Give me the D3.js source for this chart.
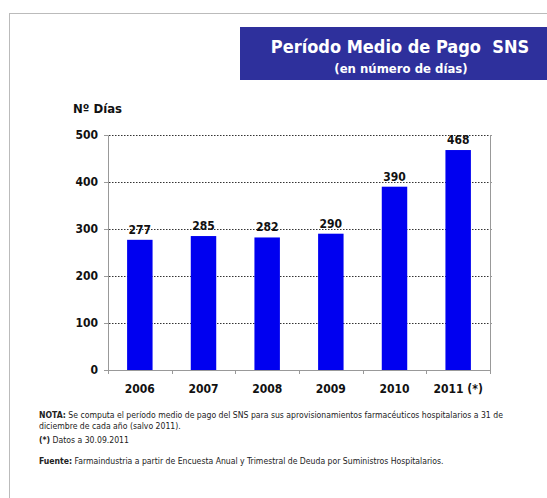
<!DOCTYPE html>
<html>
<head>
<meta charset="utf-8">
<script src="https://cdn.jsdelivr.net/npm/d3@7"></script>
<style>
  body { margin: 0; background: #fff; }
  text { font-family: "DejaVu Sans Condensed", "DejaVu Sans", sans-serif; white-space: pre; }
</style>
</head>
<body>
<div id="chart"></div>
<script>
// chart values
const years = ["2006", "2007", "2008", "2009", "2010", "2011 (*)"];
const days = [277, 285, 282, 290, 390, 468];
const yTicks = [0, 100, 200, 300, 400, 500];

const title = "Período Medio de Pago  SNS";
const subtitle = "(en número de días)";
const yLabel = "Nº Días";
const notes = [
  {b: "NOTA:", t: " Se computa el período medio de pago del SNS para sus aprovisionamientos farmacéuticos hospitalarios a 31 de"},
  {b: "", t: "diciembre de cada año (salvo 2011)."},
  {b: "(*)", t: " Datos a 30.09.2011"},
  {b: "Fuente:", t: " Farmaindustria a partir de Encuesta Anual y Trimestral de Deuda por Suministros Hospitalarios."}
];

const svgWidth = 547, svgHeight = 498;
const svg = d3.select("#chart").append("svg")
  .attr("width", svgWidth)
  .attr("height", svgHeight);

// outer frame
svg.append("rect")
  .attr("x", 9.5).attr("y", 13.5)
  .attr("width", 600).attr("height", 600)
  .attr("fill", "none").attr("stroke", "#bbb").attr("stroke-width", 1);

// title box
svg.append("rect")
  .attr("x", 240).attr("y", 27)
  .attr("width", 320).attr("height", 53)
  .attr("fill", "#2e309c");
svg.append("text")
  .attr("x", 400).attr("y", 53)
  .attr("text-anchor", "middle")
  .attr("fill", "#fff").attr("font-weight", "bold").attr("font-size", 18)
  .text(title);
svg.append("text")
  .attr("x", 401).attr("y", 73)
  .attr("text-anchor", "middle")
  .attr("fill", "#fff").attr("font-weight", "bold").attr("font-size", 13)
  .text(subtitle);

// plot area
const margin = {top: 135, left: 108, right: 57, bottom: 128};
const width = svgWidth - margin.left - margin.right,
      height = svgHeight - margin.top - margin.bottom;

const x = d3.scaleBand().domain(years).range([0, width]).paddingInner(0.6).paddingOuter(0.3);
const y = d3.scaleLinear().domain([0, 500]).range([height, 0]);

const g = svg.append("g")
  .attr("transform", "translate(" + margin.left + "," + margin.top + ")");

svg.append("text")
  .attr("x", 73).attr("y", 113)
  .attr("font-weight", "bold").attr("font-size", 13).attr("fill", "#111")
  .text(yLabel);

// gridlines
g.selectAll(".grid")
  .data(yTicks.filter(d => d > 0))
  .enter().append("line")
    .attr("class", "grid")
    .attr("x1", -2).attr("x2", width + 2)
    .attr("y1", d => y(d) + 0.5).attr("y2", d => y(d) + 0.5)
    .attr("stroke", "#333").attr("stroke-width", 1.1)
    .attr("stroke-dasharray", "1.5,1.5");

// right border
g.append("line")
  .attr("x1", width + 0.5).attr("x2", width + 0.5)
  .attr("y1", 0).attr("y2", height)
  .attr("stroke", "#999");

// y axis
const yAxis = g.append("g")
  .attr("class", "axis axis--y")
  .call(d3.axisLeft(y).tickValues(yTicks).tickSize(4).tickPadding(6));
yAxis.select(".domain").attr("stroke", "#999");
yAxis.selectAll(".tick line").attr("stroke", "#999");
yAxis.selectAll(".tick text")
  .attr("font-family", "'DejaVu Sans Condensed', sans-serif")
  .attr("font-size", 12).attr("font-weight", "bold").attr("fill", "#111");

// x axis with ticks between categories
const xAxis = g.append("g")
  .attr("class", "axis axis--x")
  .attr("transform", "translate(0," + height + ")")
  .call(d3.axisBottom(x).tickSize(0).tickPadding(14).tickSizeOuter(0));
xAxis.select(".domain").attr("stroke", "#999");
xAxis.selectAll(".tick text")
  .attr("font-family", "'DejaVu Sans Condensed', sans-serif")
  .attr("font-size", 12).attr("font-weight", "bold").attr("fill", "#111");
xAxis.selectAll(".sep")
  .data(d3.range(years.length + 1))
  .enter().append("line")
    .attr("class", "sep")
    .attr("x1", i => Math.round(i * width / years.length) + 0.5)
    .attr("x2", i => Math.round(i * width / years.length) + 0.5)
    .attr("y1", 0).attr("y2", 4)
    .attr("stroke", "#999");

// bars
g.selectAll(".bar")
  .data(days)
  .enter().append("rect")
    .attr("class", "bar")
    .attr("x", (d, i) => x(years[i]))
    .attr("y", d => y(d))
    .attr("width", x.bandwidth())
    .attr("height", d => height - y(d))
    .attr("fill", "#0000f0");

// value labels
g.selectAll(".val")
  .data(days)
  .enter().append("text")
    .attr("class", "val")
    .attr("x", (d, i) => x(years[i]) + x.bandwidth() / 2)
    .attr("y", d => y(d) - 6)
    .attr("text-anchor", "middle")
    .attr("font-size", 12).attr("font-weight", "bold").attr("fill", "#111")
    .text(d => d);

// notes
const noteY = [418, 429, 443, 464];
notes.forEach((n, i) => {
  const t = svg.append("text")
    .attr("x", 39).attr("y", noteY[i])
    .attr("font-size", 8.6).attr("fill", "#222");
  if (n.b) t.append("tspan").attr("font-weight", "bold").text(n.b);
  t.append("tspan").text(n.t);
});
</script>
</body>
</html>
